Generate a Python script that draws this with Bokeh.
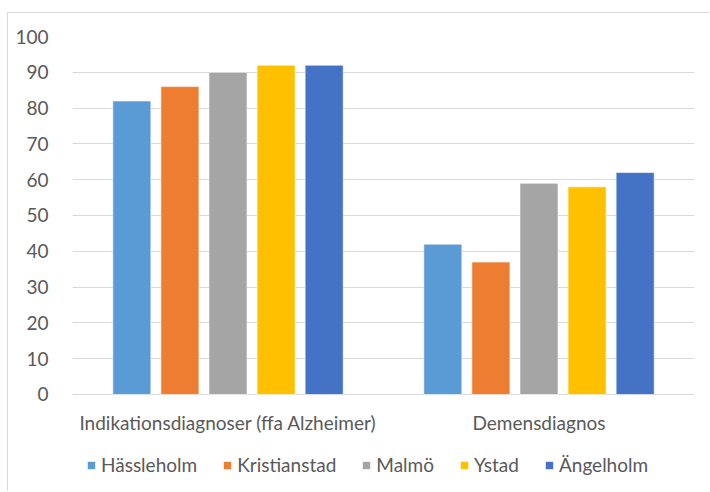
from bokeh.plotting import figure
from bokeh.models import (ColumnDataSource, FactorRange, Legend, LegendItem,
                          FixedTicker)
from bokeh.core.properties import value
from bokeh.transform import dodge
from bokeh.embed import file_html
from bokeh.resources import INLINE

# Data
categories = ["Indikationsdiagnoser (ffa Alzheimer)", "Demensdiagnos"]
hassleholm = [82, 42]
kristianstad = [86, 37]
malmo = [90, 59]
ystad = [92, 58]
angelholm = [92, 62]
y_ticks = [0, 10, 20, 30, 40, 50, 60, 70, 80, 90, 100]

series_names = ["Hässleholm", "Kristianstad", "Malmö", "Ystad", "Ängelholm"]
series_values = [hassleholm, kristianstad, malmo, ystad, angelholm]
colors = ["#5B9BD5", "#ED7D31", "#A5A5A5", "#FFC000", "#4472C4"]

FONT = "Lato"
TEXT = "#595959"
GRID = "#D9D9D9"
FS = "19px"

source = ColumnDataSource(dict(
    cat=categories,
    **{f"s{i}": v for i, v in enumerate(series_values)},
))

# The frame reaches below zero so that the category labels and the
# legend sit underneath the baseline inside the plotting area.
p = figure(
    x_range=FactorRange(*categories, range_padding=0),
    y_range=(-25.7, 100),
    width=702, height=479,
    output_backend="svg", toolbar_location=None,
    min_border_left=64, min_border_right=16,
    min_border_top=23, min_border_bottom=6,
    margin=(12, 0, 0, 7),
    styles={"border-left": f"1px solid {GRID}", "border-top": f"1px solid {GRID}"},
)

step = 0.1546
bar_w = 0.1224
renderers = []
for i, name in enumerate(series_names):
    r = p.vbar(x=dodge("cat", (i - 2) * step, range=p.x_range), top=f"s{i}",
               width=bar_w, source=source, fill_color=colors[i],
               line_color="white", line_alpha=0.6, line_width=1)
    renderers.append(r)

# category labels under the baseline
p.text(x="cat", y=-7.9, text="cat", source=source,
       text_font=value(FONT), text_font_size=FS, text_color=TEXT,
       text_align="center", text_baseline="middle")

# axes
p.xaxis.visible = False
p.yaxis.ticker = FixedTicker(ticks=y_ticks)
p.yaxis.axis_line_color = None
p.yaxis.major_tick_line_color = None
p.yaxis.minor_tick_line_color = None
p.yaxis.major_label_standoff = 18
p.yaxis.major_label_text_font = FONT
p.yaxis.major_label_text_font_size = FS
p.yaxis.major_label_text_color = TEXT

p.xgrid.grid_line_color = None
p.ygrid.ticker = FixedTicker(ticks=y_ticks)
p.ygrid.grid_line_color = GRID
p.ygrid.grid_line_width = 1
p.outline_line_color = None

legend = Legend(
    items=[LegendItem(label=n, renderers=[r]) for n, r in zip(series_names, renderers)],
    orientation="horizontal", location=(14, 10),
    glyph_width=10, glyph_height=10, spacing=25, label_standoff=5,
    label_text_font=FONT, label_text_font_size=FS, label_text_color=TEXT,
    border_line_color=None, background_fill_alpha=0, margin=0, padding=4,
)
p.add_layout(legend, "center")

open("out.html", "w").write(file_html(p, INLINE))
